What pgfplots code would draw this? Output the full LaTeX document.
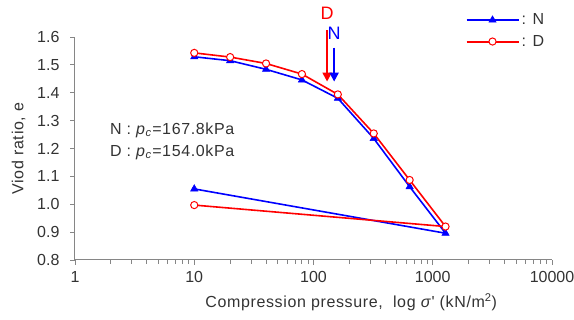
\documentclass[border=0pt]{standalone}
\usepackage{fontspec}
\setmainfont{Liberation Sans}
\newfontfamily\ls{Liberation Sans}[LetterSpace=4]
\usepackage{pgfplots}
\pgfplotsset{compat=1.18}
\usetikzlibrary{arrows.meta}
\definecolor{txt}{HTML}{333333}
\definecolor{ax}{HTML}{868686}
\begin{document}
\begin{tikzpicture}
\path[use as bounding box] (-75pt,-60pt) rectangle (499pt,260pt);
\begin{axis}[
  scale only axis, width=477pt, height=223pt,
  xmode=log, xmin=1, xmax=10000, ymin=0.8, ymax=1.6,
  axis lines*=left,
  axis line style={ax, line width=1pt},
  every tick/.style={ax, line width=0.9pt},
  tick align=outside,
  major tick length=5pt, minor tick length=4pt,
  xtick={1,10,100,1000,10000},
  xticklabels={1,10,100,1000,10000},
  ytick={0.8,0.9,...,1.61},
  yticklabel style={/pgf/number format/fixed, /pgf/number format/fixed zerofill, /pgf/number format/precision=1, xshift=-7pt},
  /pgf/number format/assume math mode=true,
  tick label style={font=\fontsize{16}{18}\selectfont, text=txt},
  xticklabel style={yshift=-3pt},
  xlabel={Compression pressure,\ \ log \textit{σ}' (kN/m\textsuperscript{2})},
  xlabel style={font=\ls\fontsize{16}{18}\selectfont, text=txt, at={(axis description cs:0.579,-0.19)}, anchor=center},
  ylabel={Viod ratio, e},
  ylabel style={font=\ls\fontsize{16}{18}\selectfont, text=txt, at={(axis description cs:-0.118,0.5)}, anchor=center},
  clip=false,
  legend style={at={(rel axis cs:0.812,1.123)}, anchor=north west, draw=none, fill=none,
    font=\ls\fontsize{16}{18}\selectfont, text=txt, row sep=5pt, cells={anchor=west}},
  legend cell align=left,
  legend image code/.code={%
    \draw[#1, mark=none, line width=2pt] (0pt,0pt) -- (52pt,0pt);
    \draw[#1, only marks] plot coordinates {(26pt,0pt)};},
]
\addplot[blue, line width=1.6pt, mark=triangle*, mark size=4.2pt, mark options={fill=blue, line width=0.5pt}]
  coordinates {(10,1.529) (20,1.515) (40,1.484) (80,1.446) (160,1.380) (320,1.236) (640,1.063) (1280,0.896) (10,1.055)};
\addlegendentry{: N}
\addplot[red, line width=1.6pt, mark=*, mark size=3.6pt, mark options={fill=white, draw=red, line width=1pt}]
  coordinates {(10,1.543) (20,1.528) (40,1.505) (80,1.467) (160,1.394) (320,1.254) (640,1.087) (1280,0.920) (10,0.997)};
\addlegendentry{: D}
\node[anchor=west, text=txt, font=\ls\fontsize{16}{18}\selectfont] at (rel axis cs:0.066,0.583) {N : \textit{p}\textsubscript{\textit{c}}=167.8kPa};
\node[anchor=west, text=txt, font=\ls\fontsize{16}{18}\selectfont] at (rel axis cs:0.066,0.484) {D : \textit{p}\textsubscript{\textit{c}}=154.0kPa};
\draw[red, line width=2pt, -{Triangle[length=9pt, width=9pt]}] (axis cs:130,1.625) -- (axis cs:130,1.440);
\draw[blue, line width=2pt, -{Triangle[length=9pt, width=9pt]}] (axis cs:149,1.562) -- (axis cs:149,1.440);
\node[red, font=\fontsize{18}{20}\selectfont] at (axis cs:130,1.684) {D};
\node[blue, font=\fontsize{18}{20}\selectfont] at (axis cs:149,1.612) {N};
\end{axis}
\end{tikzpicture}
\end{document}
